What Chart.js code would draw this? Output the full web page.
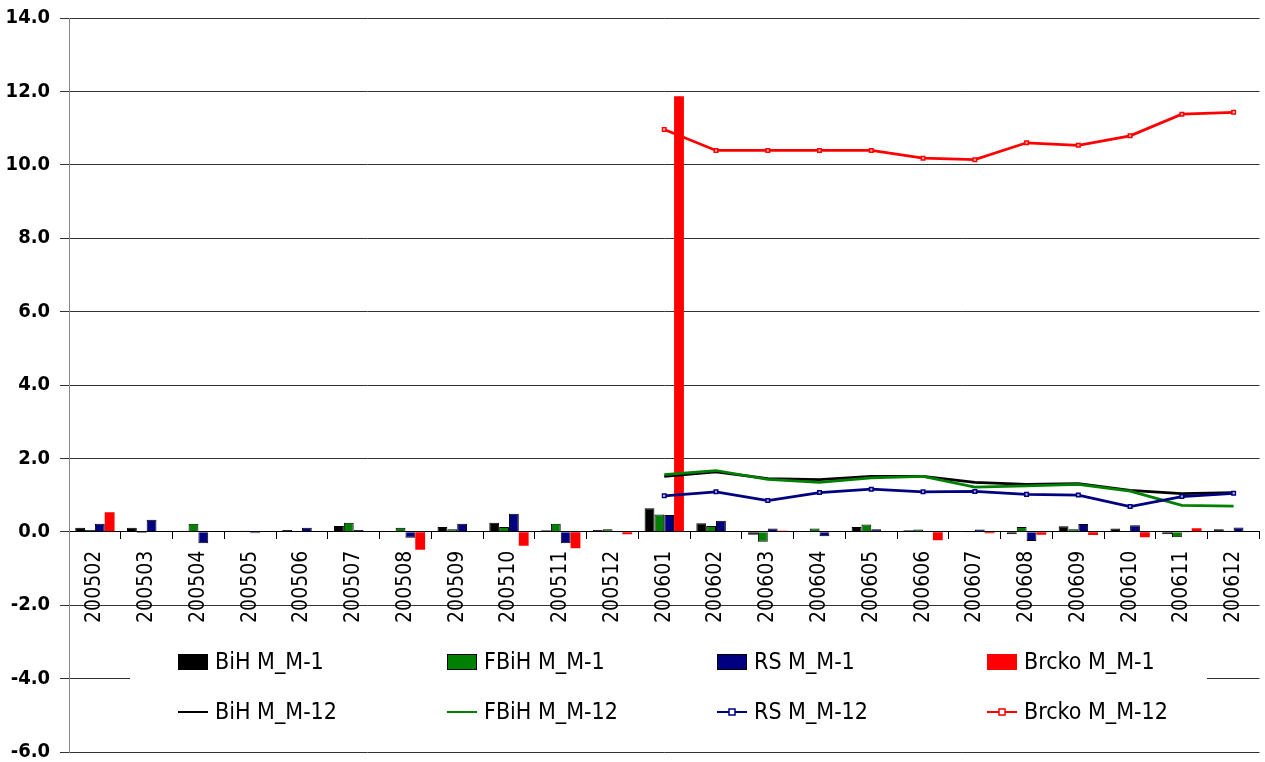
<!DOCTYPE html>
<html>
<head>
<meta charset="utf-8">
<script src="https://cdn.jsdelivr.net/npm/chart.js@4/dist/chart.umd.min.js"></script>
<style>
    html, body { margin: 0; padding: 0; background: #fff; }
    #wrap { width: 1265px; height: 762px; }
</style>
</head>
<body>
<div id="wrap"><canvas id="inflChart" width="1265" height="762"></canvas></div>
<script>
// Categories (year + month)
const categories = ['200502', '200503', '200504', '200505', '200506', '200507', '200508', '200509',
    '200510', '200511', '200512', '200601', '200602', '200603', '200604', '200605', '200606',
    '200607', '200608', '200609', '200610', '200611', '200612'];

// Month on month (bars)
const bihM1 = [0.11, 0.11, 0.03, 0.02, 0.05, 0.16, 0.01, 0.13, 0.25, 0.04, 0.05, 0.64,
    0.23, -0.08, 0.01, 0.13, 0.04, 0.02, -0.07, 0.15, 0.09, -0.07, 0.07];
const fbihM1 = [0.05, -0.03, 0.22, 0.03, 0.01, 0.25, 0.11, 0.07, 0.13, 0.22, 0.07, 0.47,
    0.16, -0.27, 0.09, 0.20, 0.06, -0.02, 0.13, 0.07, -0.01, -0.15, 0.03];
const rsM1 = [0.22, 0.33, -0.31, -0.04, 0.11, 0.05, -0.16, 0.22, 0.49, -0.31, 0.02, 0.46,
    0.30, 0.09, -0.12, 0.07, 0.02, 0.06, -0.25, 0.21, 0.18, -0.02, 0.12];
const brckoM1 = [0.53, 0, 0, 0, 0, 0, -0.49, 0, -0.38, -0.45, -0.07, 11.87,
    0, 0.03, 0, 0, -0.23, -0.04, -0.08, -0.09, -0.15, 0.10, 0];

// Month vs same month last year (lines)
const bihM12 = [null, null, null, null, null, null, null, null, null, null, null,
    1.51, 1.63, 1.45, 1.42, 1.51, 1.51, 1.35, 1.29, 1.31, 1.13, 1.04, 1.07];
const fbihM12 = [null, null, null, null, null, null, null, null, null, null, null,
    1.56, 1.67, 1.43, 1.35, 1.47, 1.51, 1.22, 1.25, 1.29, 1.11, 0.72, 0.70];
const rsM12 = [null, null, null, null, null, null, null, null, null, null, null,
    0.98, 1.09, 0.85, 1.07, 1.16, 1.09, 1.10, 1.02, 1.00, 0.69, 0.96, 1.05];
const brckoM12 = [null, null, null, null, null, null, null, null, null, null, null,
    10.96, 10.39, 10.39, 10.39, 10.39, 10.18, 10.14, 10.60, 10.53, 10.79, 11.38, 11.43];

// Y axis range
const yMin = -6;
const yMax = 14;
const yStep = 2;

const narrow = "'Liberation Sans Narrow', 'DejaVu Sans Condensed', sans-serif";

function barSet(label, data, color, border) {
    return {
        type: 'bar', label: label, data: data,
        backgroundColor: color,
        borderColor: border ? '#000' : color,
        borderWidth: border ? 1 : 0,
        barPercentage: 1.0, categoryPercentage: 0.76,
        order: 10
    };
}

function lineSet(label, data, color, marker, order) {
    return {
        type: 'line', label: label, data: data,
        borderColor: color, backgroundColor: '#fff',
        borderWidth: 2.75,
        pointStyle: 'rect',
        pointRadius: marker ? 2.5 : 0,
        pointBorderWidth: 1.5,
        pointBorderColor: color,
        pointBackgroundColor: 'rgba(255,255,255,0.7)',
        spanGaps: false, tension: 0,
        order: order,
        marker: marker
    };
}

// Legend drawn inside the plot, like the original
const boxLegend = {
    id: 'boxLegend',
    afterDraw(chart) {
        const c = chart.ctx;
        const cols = [178, 447, 717, 987];
        const rows = [662, 712];
        c.save();
        c.fillStyle = '#fff';
        c.fillRect(130, 630, 1077, 110);
        c.font = '23px ' + narrow;
        c.textBaseline = 'middle';
        chart.data.datasets.forEach((ds, i) => {
            const x = cols[i % 4];
            const y = rows[Math.floor(i / 4)];
            if (ds.type === 'bar') {
                c.fillStyle = ds.backgroundColor;
                c.fillRect(x, y - 8, 30, 16);
                if (ds.borderWidth) {
                    c.strokeStyle = '#000';
                    c.lineWidth = 1;
                    c.strokeRect(x + 0.5, y - 7.5, 29, 15);
                }
            } else {
                c.strokeStyle = ds.borderColor;
                c.lineWidth = 2;
                c.beginPath();
                c.moveTo(x, y);
                c.lineTo(x + 30, y);
                c.stroke();
                if (ds.marker) {
                    c.fillStyle = '#fff';
                    c.lineWidth = 1.5;
                    c.fillRect(x + 12, y - 3, 6, 6);
                    c.strokeRect(x + 12, y - 3, 6, 6);
                }
            }
            c.fillStyle = '#000';
            c.fillText(ds.label, x + 37, y + 1);
        });
        c.restore();
    }
};

const ctx = document.getElementById('inflChart').getContext('2d');
const inflChart = new Chart(ctx, {
    type: 'bar',
    data: {
        labels: categories,
        datasets: [
            barSet('BiH M_M-1', bihM1, '#000000', true),
            barSet('FBiH M_M-1', fbihM1, '#008000', true),
            barSet('RS M_M-1', rsM1, '#000080', true),
            barSet('Brcko M_M-1', brckoM1, '#ff0000', false),
            lineSet('BiH M_M-12', bihM12, '#000000', false, 4),
            lineSet('FBiH M_M-12', fbihM12, '#008000', false, 3),
            lineSet('RS M_M-12', rsM12, '#000080', true, 2),
            lineSet('Brcko M_M-12', brckoM12, '#ff0000', true, 1)
        ]
    },
    options: {
        responsive: false,
        animation: false,
        layout: { padding: { top: 18, bottom: 10, right: 0, left: 0 } },
        plugins: {
            legend: { display: false },
            tooltip: { enabled: false }
        },
        scales: {
            x: {
                position: { y: 0 },
                offset: true,
                afterFit(scale) {
                    scale.paddingLeft = 0;
                    scale.paddingRight = 0;
                },
                grid: {
                    offset: true,
                    drawOnChartArea: false,
                    drawTicks: true,
                    tickLength: 7,
                    color: '#000'
                },
                border: { color: '#000', width: 1 },
                ticks: {
                    minRotation: 90, maxRotation: 90,
                    autoSkip: false,
                    padding: 12,
                    color: '#000',
                    font: { family: narrow, size: 21 }
                }
            },
            y: {
                min: yMin, max: yMax,
                afterFit(scale) {
                    scale.width = 69;
                    scale.paddingTop = 0;
                    scale.paddingBottom = 0;
                },
                grid: {
                    color: '#333',
                    tickLength: 9,
                    drawTicks: true
                },
                border: { color: '#888', width: 1 },
                ticks: {
                    stepSize: yStep,
                    padding: 10,
                    color: '#000',
                    font: { family: narrow, size: 20, weight: 'bold' },
                    callback: v => v.toFixed(1)
                }
            }
        }
    },
    plugins: [boxLegend]
});
</script>
</body>
</html>
